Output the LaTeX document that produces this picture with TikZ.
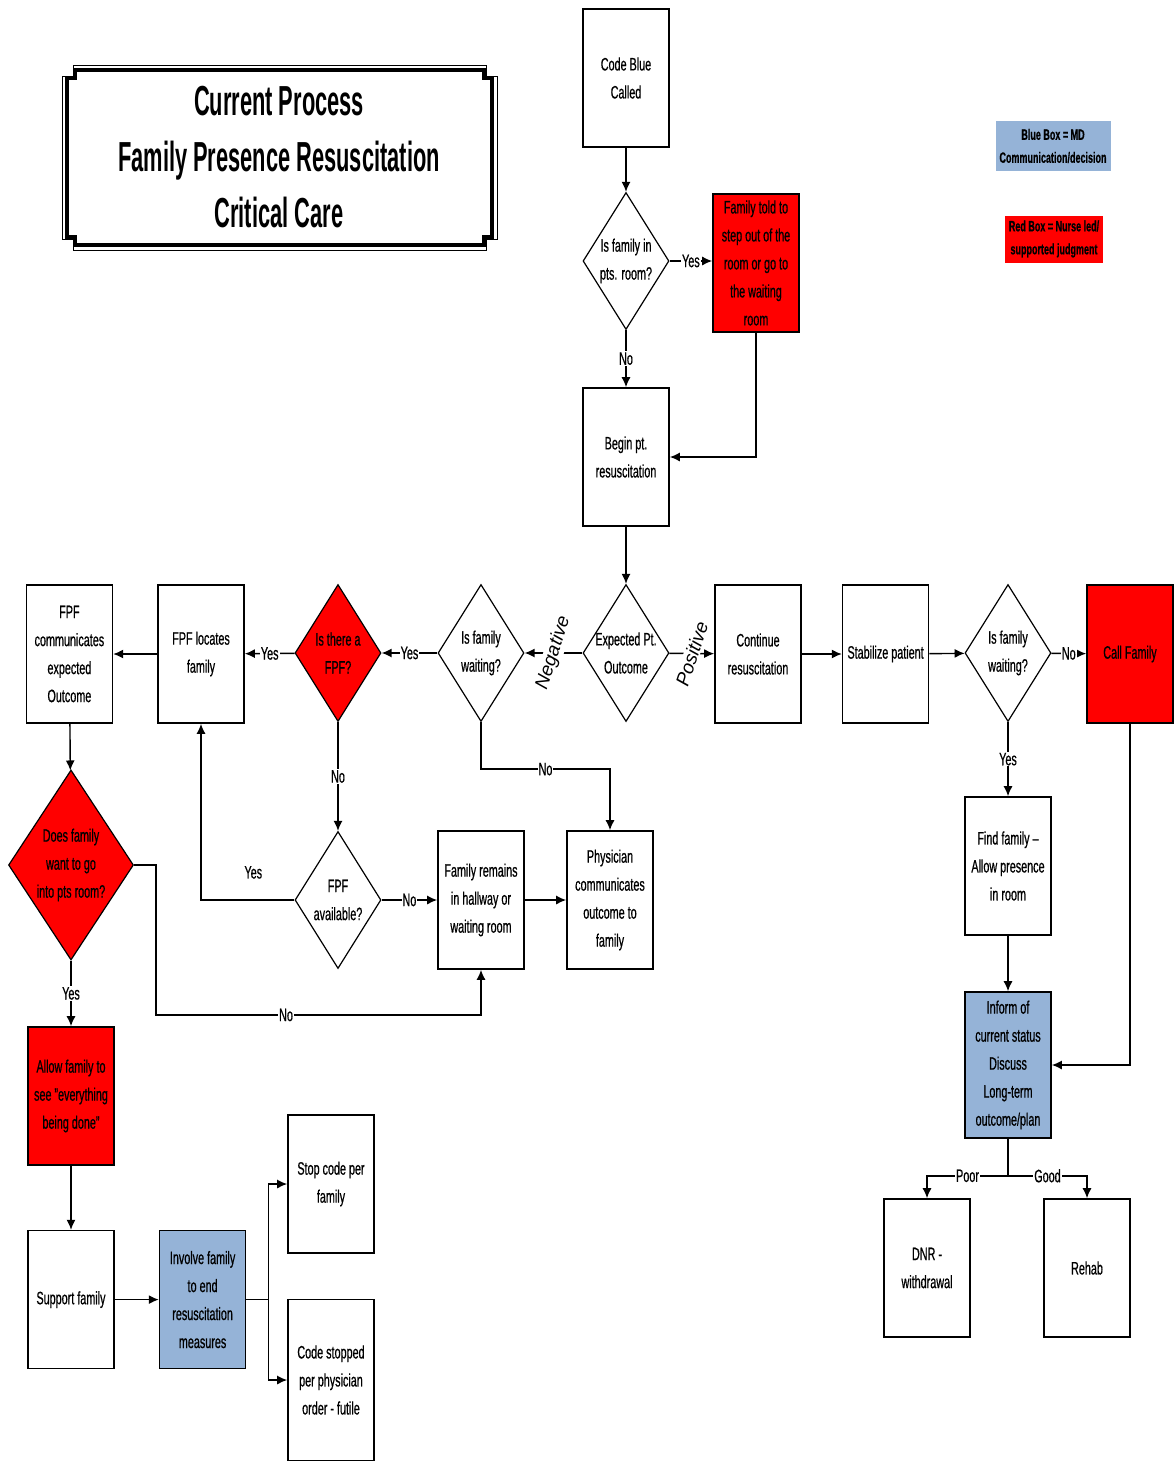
\documentclass[tikz,border=0pt]{standalone}
\usepackage{fontspec}
\setmainfont[FakeStretch=0.6, FakeBold=0.6]{Liberation Sans}
\newfontfamily\titlefont[FakeStretch=0.52]{Liberation Sans}
\newfontfamily\slantfont{Liberation Sans}
\usepackage{xcolor}
\usetikzlibrary{arrows.meta,positioning,shapes.geometric}
\definecolor{mdblue}{RGB}{149,179,215}
\definecolor{nursered}{RGB}{255,0,0}

\begin{document}
\begin{tikzpicture}[
    x=0.5pt, y=-0.5pt,
    font=\fontsize{9}{14}\selectfont,
    box/.style={rectangle, draw, line width=0.8pt, minimum width=43pt, minimum height=69pt, align=center, inner sep=1pt},
    redbox/.style={box, fill=nursered},
    bluebox/.style={box, fill=mdblue},
    decision/.style={diamond, draw, line width=0.6pt, minimum width=43pt, minimum height=68.5pt, aspect=0.63, align=center, inner sep=-1pt},
    legend/.style={rectangle, align=center, inner sep=1pt, font=\bfseries\fontsize{7.5}{11.5}\selectfont},
    arrow/.style={-{Latex[length=5pt,width=4.5pt]}, line width=0.7pt},
    line/.style={line width=0.7pt},
    lbl/.style={fill=white, inner sep=0.5pt},
    slantlbl/.style={lbl, rotate=72, font=\slantfont\itshape\fontsize{9.5}{11}\selectfont},
  ]
  \useasboundingbox (0,0) rectangle (1173,1462);

  % Title with framed border
  \node[align=center, font=\titlefont\bfseries\fontsize{21}{28}\selectfont] (title) at (279,157)
    {Current Process\\Family Presence Resuscitation\\Critical Care};
  \draw[line width=1.6pt] (75,70) -- (484,70) -- (484,78) -- (492,78) -- (492,237) -- (484,237)
    -- (484,245) -- (75,245) -- (75,237) -- (67,237) -- (67,78) -- (75,78) -- cycle;
  \draw[line width=0.5pt] (73,65) -- (486,65) -- (486,76) -- (497,76) -- (497,239) -- (486,239)
    -- (486,250) -- (73,250) -- (73,239) -- (62,239) -- (62,76) -- (73,76) -- cycle;

  % Legend
  \node[legend, fill=mdblue, minimum width=57.5pt, minimum height=25pt] (legmd) at (1053,146) {Blue Box = MD\\Communication/decision};
  \node[legend, fill=nursered, minimum width=49pt, minimum height=23.5pt] (legrn) at (1054,239) {Red Box = Nurse led/\\supported judgment};

  % Start of code
  \node[box] (code) at (626,78) {Code Blue\\Called};
  \node[decision] (fam1) at (626,261) {Is family in\\pts. room?};
  \node[redbox] (told) at (756,263) {Family told to\\step out of the\\room or go to\\the waiting\\room};
  \node[box] (begin) at (626,457) {Begin pt.\\resuscitation};
  \node[decision] (expected) at (626,653) {Expected Pt.\\Outcome};

  % Negative branch
  \node[decision] (waitL) at (481,653) {Is family\\waiting?};
  \node[decision, fill=nursered] (fpf) at (338,653) {Is there a\\FPF?};
  \node[box] (locates) at (201,654) {FPF locates\\family};
  \node[box, left=22pt of locates] (comm) {FPF\\communicates\\expected\\Outcome};
  \node[decision, fill=nursered, minimum width=62.5pt, minimum height=95pt, aspect=0.66] (want) at (71,865) {Does family\\want to go\\into pts room?};
  \node[redbox] (allow) at (71,1096) {Allow family to\\see "everything\\being done"};
  \node[box, below=32pt of allow] (support) {Support family};
  \node[bluebox, right=22pt of support] (involve) {Involve family\\to end\\resuscitation\\measures};
  \node[box] (stop) at (331,1184) {Stop code per\\family};
  \node[box, minimum height=80.5pt] (stopped) at (331,1380) {Code stopped\\per physician\\order - futile};
  \node[decision] (avail) at (338,900) {FPF\\available?};
  \node[box] (remains) at (481,900) {Family remains\\in hallway or\\waiting room};
  \node[box] (phys) at (610,900) {Physician\\communicates\\outcome to\\family};

  % Positive branch
  \node[box] (cont) at (758,654) {Continue\\resuscitation};
  \node[box, right=20pt of cont] (stab) {Stabilize patient};
  \node[decision] (waitR) at (1008,653) {Is family\\waiting?};
  \node[redbox] (call) at (1130,654) {Call Family};
  \node[box] (find) at (1008,866) {Find family --\\Allow presence\\in room};
  \node[bluebox, minimum height=73pt] (inform) at (1008,1065) {Inform of\\current status\\Discuss\\Long-term\\outcome/plan};
  \node[box] (dnr) at (927,1268) {DNR -\\withdrawal};
  \node[box] (rehab) at (1087,1268) {Rehab};

  % Arrows
  \draw[arrow] (code) -- (fam1);
  \draw[arrow] (fam1) -- node[lbl]{Yes} (fam1 -| told.west);
  \draw[arrow] (fam1) -- node[lbl]{No} (begin);
  \draw[arrow] (told) |- (begin);
  \draw[arrow] (begin) -- (expected);
  \draw[arrow] (expected) -- node[slantlbl]{Negative} (waitL);
  \draw[arrow] (expected) -- node[slantlbl]{Positive} (cont);
  \draw[arrow] (waitL) -- node[lbl]{Yes} (fpf);
  \draw[arrow] (fpf) -- node[lbl]{Yes} (locates);
  \draw[arrow] (locates) -- (comm);
  \draw[arrow] (comm) -- (want);
  \draw[arrow] (want) -- node[lbl]{Yes} (allow);
  \draw[arrow] (allow) -- (support);
  \draw[arrow] (support) -- (involve);
  \draw[arrow] (involve.east) -- ++(22,0) |- (stop.west);
  \draw[arrow] (involve.east) -- ++(22,0) |- (stopped.west);
  \draw[arrow] (fpf) -- node[lbl]{No} (avail);
  \draw[arrow] (avail) -| node[above=7pt, pos=0.22]{Yes} (locates);
  \draw[arrow] (avail) -- node[lbl]{No} (remains);
  \draw[arrow] (remains) -- (phys);
  \draw[arrow] (want.east) -- ++(22,0) -- ++(0,150) -| node[lbl, pos=0.2]{No} (remains.south);
  \draw[arrow] (waitL.south) -- ++(0,47) -| node[lbl, pos=0.25]{No} (phys.north);
  \draw[arrow] (cont) -- (stab);
  \draw[arrow] (stab) -- (waitR);
  \draw[arrow] (waitR) -- node[lbl]{No} (call);
  \draw[arrow] (waitR) -- node[lbl]{Yes} (find);
  \draw[arrow] (find) -- (inform);
  \draw[arrow] (call) |- (inform);
  \draw[line] (inform.south) -- ++(0,37) coordinate (split);
  \draw[arrow] (split) -| node[lbl, pos=0.25]{Poor} (dnr.north);
  \draw[arrow] (split) -| node[lbl, pos=0.25]{Good} (rehab.north);
\end{tikzpicture}
\end{document}
